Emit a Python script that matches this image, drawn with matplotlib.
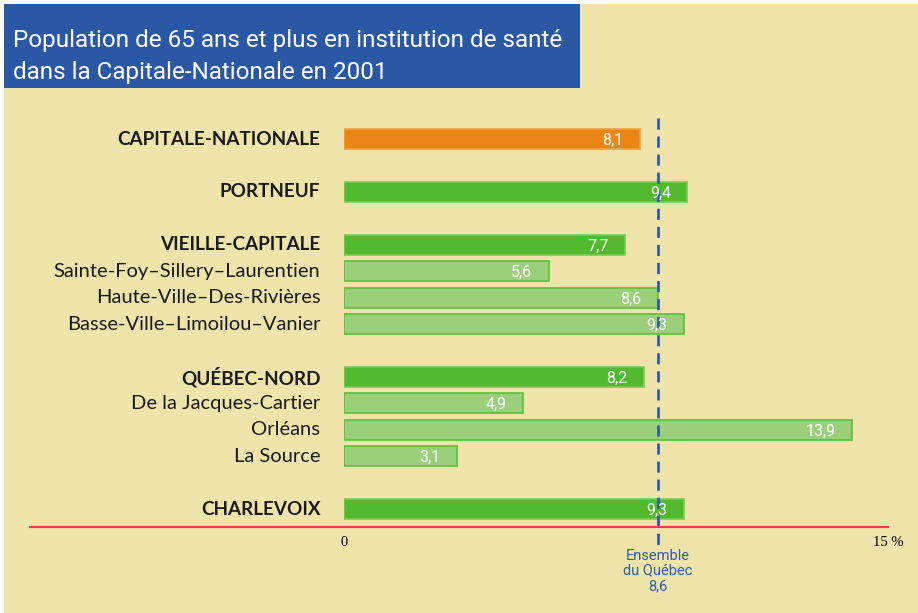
import matplotlib
matplotlib.use('Agg')
import matplotlib.pyplot as plt
from matplotlib.patches import Rectangle

labels = ['CAPITALE-NATIONALE', 'PORTNEUF', 'VIEILLE-CAPITALE',
          'Sainte-Foy\u2013Sillery\u2013Laurentien', 'Haute-Ville\u2013Des-Rivi\u00e8res',
          'Basse-Ville\u2013Limoilou\u2013Vanier', 'QU\u00c9BEC-NORD',
          'De la Jacques-Cartier', 'Orl\u00e9ans', 'La Source', 'CHARLEVOIX']
values = [8.1, 9.4, 7.7, 5.6, 8.6, 9.3, 8.2, 4.9, 13.9, 3.1, 9.3]
slots = [0, 2, 4, 5, 6, 7, 9, 10, 11, 12, 14]
kinds = ['total', 'rls', 'rls', 'clsc', 'clsc', 'clsc', 'rls', 'clsc', 'clsc', 'clsc', 'rls']
quebec = 8.6

CREAM = '#EFE4AA'
BLUE = '#2A58A5'
fills = {'total': '#EB8513', 'rls': '#52B92E', 'clsc': '#9BD07A'}
edges = {'total': '#F0A040', 'rls': '#7ACB5A', 'clsc': '#5DBE3A'}

W, H = 918, 613
fig = plt.figure(figsize=(W / 100, H / 100), dpi=100)
fig.patch.set_facecolor('white')

# cream panel and title box
fig.add_artist(Rectangle((4 / W, 0), 1, 1 - 4 / H, transform=fig.transFigure,
                         facecolor=CREAM, edgecolor='none', zorder=0))
fig.add_artist(Rectangle((4 / W, 1 - 88 / H), 576 / W, 84 / H, transform=fig.transFigure,
                         facecolor=BLUE, edgecolor='none', zorder=1))
fig.text(13 / W, 1 - 56 / H, 'Population de 65 ans et plus en institution de sant\u00e9\n'
         'dans la Capitale-Nationale en 2001', color='white', fontsize=17.5,
         family='Roboto', va='center', ha='left', linespacing=1.5)

# axes: x=0 at px 344, x=15 at px 892; top px 105, bottom px 527
ax = fig.add_axes([344 / W, 1 - 527 / H, 548 / W, 422 / H])
ax.set_facecolor('none')
ax.set_xlim(0, 15)
ax.set_ylim(14.68, -1.29)
for s in ax.spines.values():
    s.set_visible(False)
ax.set_xticks([])
ax.set_yticks([])

for lab, v, s, k in zip(labels, values, slots, kinds):
    ax.barh(s, v, height=0.76, color=fills[k], edgecolor=edges[k], linewidth=1.2, zorder=2)
    ax.text(v - 0.45, s + 0.05, f'{v:.1f}'.replace('.', ','), color='white', fontsize=11.5,
            family='Roboto', ha='right', va='center', zorder=4)
    if k == 'clsc':
        ax.text(-0.65, s, lab, ha='right', va='center', fontsize=14.5, color='#1a1a1a',
                family='Lato')
    else:
        ax.text(-0.65, s, lab, ha='right', va='center', fontsize=13.6, color='#1a1a1a',
                family='Lato', fontweight='bold')

# Quebec average
ax.plot([quebec, quebec], [-0.8, 15.5], ls=(0, (4, 2.5)), color='#2F5DAA', lw=2,
        clip_on=False, zorder=3)
ax.text(quebec, 15.5, 'Ensemble\ndu Qu\u00e9bec\n8,6', ha='center', va='top', fontsize=10.5,
        color='#2F5DAA', family='Roboto', linespacing=1.1)

# baseline
ax.plot([-8.6, 14.9], [14.68, 14.68], color='#E0405A', lw=1.5, clip_on=False, zorder=3)
ax.text(0, 15.25, '0', ha='center', va='center', fontsize=10.5, family='Liberation Serif')
ax.text(14.9, 15.25, '15 %', ha='center', va='center', fontsize=10.5, family='Liberation Serif')

fig.savefig('out.png', dpi=100, facecolor=fig.get_facecolor())
